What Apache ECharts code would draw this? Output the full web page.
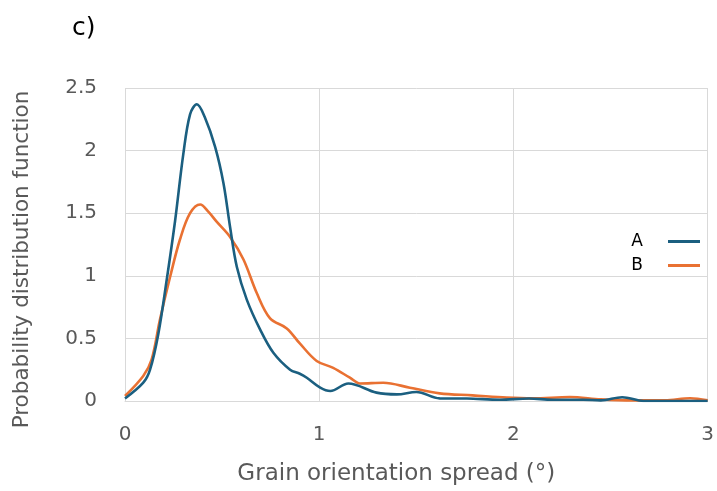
<!DOCTYPE html>
<html>
<head>
<meta charset="utf-8">
<script src="https://cdn.jsdelivr.net/npm/echarts@6/dist/echarts.min.js"></script>
<style>
  html, body { margin: 0; padding: 0; background: #fff; }
  #chart { width: 717px; height: 491px; }
</style>
</head>
<body>
<div id="chart"></div>
<script>
// Grain orientation spread (degrees) and the probability density for each sample
const seriesNames = ['A', 'B'];

const xA = [0, 0.094, 0.129, 0.172, 0.215, 0.258, 0.30, 0.335, 0.37, 0.41, 0.464, 0.507, 0.541, 0.576, 0.627, 0.696, 0.764, 0.85, 0.90, 0.936, 1.005, 1.057, 1.15, 1.295, 1.40, 1.50, 1.62, 1.76, 1.93, 2.08, 2.20, 2.36, 2.45, 2.56, 2.67, 2.85, 3.0];
const yA = [0.02, 0.146, 0.25, 0.54, 0.97, 1.44, 1.97, 2.29, 2.37, 2.27, 2.03, 1.74, 1.39, 1.07, 0.81, 0.57, 0.385, 0.25, 0.218, 0.186, 0.107, 0.08, 0.14, 0.067, 0.053, 0.072, 0.021, 0.02, 0.01, 0.02, 0.01, 0.01, 0.005, 0.03, 0.0, 0.0, 0.0];

const xB = [0, 0.094, 0.137, 0.18, 0.232, 0.283, 0.335, 0.387, 0.43, 0.473, 0.541, 0.61, 0.679, 0.747, 0.833, 0.90, 0.987, 1.072, 1.158, 1.21, 1.33, 1.467, 1.62, 1.79, 1.965, 2.10, 2.29, 2.45, 2.62, 2.78, 2.91, 3.0];
const yB = [0.04, 0.2, 0.33, 0.65, 0.99, 1.29, 1.50, 1.57, 1.51, 1.43, 1.31, 1.13, 0.86, 0.66, 0.58, 0.46, 0.32, 0.265, 0.186, 0.14, 0.146, 0.106, 0.061, 0.045, 0.027, 0.021, 0.032, 0.013, 0.005, 0.005, 0.022, 0.005];

// Axis ticks
const xTicks = [0, 1, 2, 3];
const yTicks = [0, 0.5, 1, 1.5, 2, 2.5];

const colors = ['#1b5f80', '#e97132'];
const font = '"DejaVu Sans", sans-serif';

const zip = (xs, ys) => xs.map((x, i) => [x, ys[i]]);

const chart = echarts.init(document.getElementById('chart'), null, { renderer: 'canvas' });
chart.setOption({
  animation: false,
  backgroundColor: '#ffffff',
  title: {
    text: 'c)',
    left: 67,
    top: 11,
    textStyle: { fontFamily: font, fontSize: 25, fontWeight: 'normal', color: '#000' }
  },
  legend: {
    orient: 'vertical',
    right: 12,
    top: 228,
    align: 'right',
    itemWidth: 32,
    itemHeight: 3,
    itemGap: 7,
    icon: 'rect',
    textStyle: { fontFamily: font, fontSize: 17, color: '#000', padding: [0, 20, 0, 0] },
    data: seriesNames
  },
  grid: { left: 125, right: 9, top: 88, bottom: 89 },
  xAxis: {
    type: 'value',
    min: xTicks[0],
    max: xTicks[xTicks.length - 1],
    interval: xTicks[1] - xTicks[0],
    name: 'Grain orientation spread (°)',
    nameLocation: 'middle',
    nameGap: 62,
    nameTextStyle: { fontFamily: font, fontSize: 23, color: '#595959', padding: [0, 40, 0, 0] },
    axisLine: { show: true, lineStyle: { color: '#d9d9d9', width: 1 } },
    axisTick: { show: false },
    axisLabel: { fontFamily: font, fontSize: 20, color: '#595959', margin: 24 },
    splitLine: { show: true, lineStyle: { color: '#d9d9d9', width: 1 } }
  },
  yAxis: {
    type: 'value',
    min: yTicks[0],
    max: yTicks[yTicks.length - 1],
    interval: yTicks[1] - yTicks[0],
    name: 'Probability distribution function',
    nameLocation: 'middle',
    nameGap: 92,
    nameTextStyle: { fontFamily: font, fontSize: 21.5, color: '#595959', padding: [0, 30, 0, 0] },
    axisLine: { show: false },
    axisTick: { show: false },
    axisLabel: { fontFamily: font, fontSize: 20, color: '#595959', margin: 28 },
    splitLine: { show: true, lineStyle: { color: '#d9d9d9', width: 1 } }
  },
  series: [
    {
      name: seriesNames[0],
      type: 'line',
      data: zip(xA, yA),
      smooth: 0.35,
      showSymbol: false,
      color: colors[0],
      lineStyle: { width: 2.6, color: colors[0] },
      z: 3
    },
    {
      name: seriesNames[1],
      type: 'line',
      data: zip(xB, yB),
      smooth: 0.35,
      showSymbol: false,
      color: colors[1],
      lineStyle: { width: 2.6, color: colors[1] },
      z: 2
    }
  ]
});
</script>
</body>
</html>
